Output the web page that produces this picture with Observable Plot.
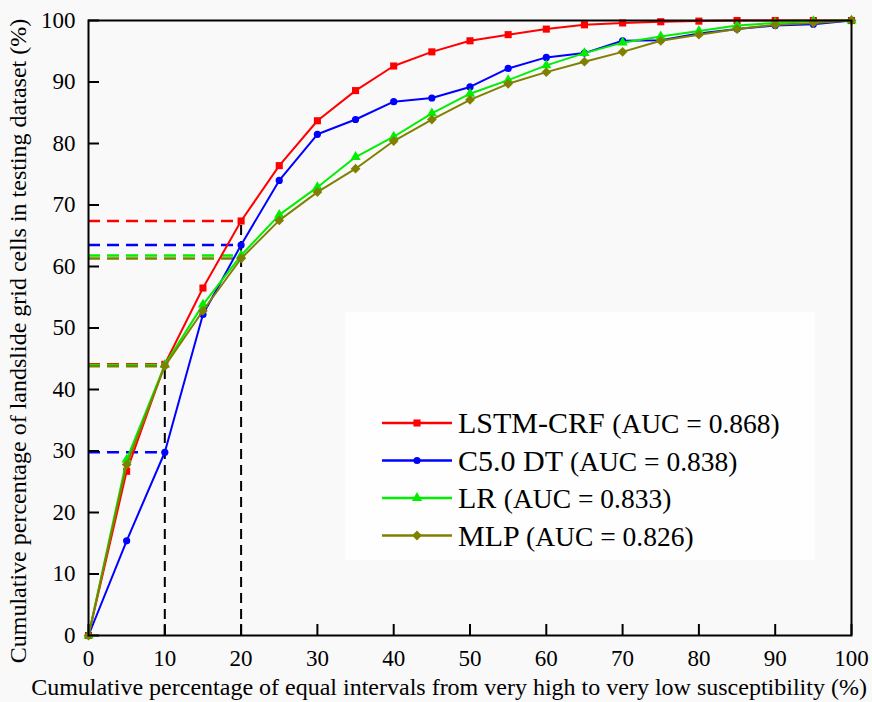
<!DOCTYPE html>
<html><head><meta charset="utf-8">
<script src="https://cdn.jsdelivr.net/npm/d3@7"></script>
<script src="https://cdn.jsdelivr.net/npm/@observablehq/plot@0.6"></script>
<style>
body{margin:0;background:#f9f9f9;}
#chart{width:872px;height:702px;}
#chart svg text{font-family:'Liberation Serif','Times New Roman',serif !important;}
</style>
</head><body><div id="chart"></div>
<script>
// ---- data ----
const xPct = [0,5,10,15,20,25,30,35,40,45,50,55,60,65,70,75,80,85,90,95,100];
const seriesNames = ["LSTM-CRF","C5.0 DT","LR","MLP"];
const aucLabels = ["(AUC = 0.868)","(AUC = 0.838)","(AUC = 0.833)","(AUC = 0.826)"];
const lstmCrf = [0,26.7,44.1,56.5,67.4,76.4,83.7,88.6,92.6,94.9,96.7,97.7,98.6,99.3,99.6,99.8,99.9,100,100,100,100];
const c50dt   = [0,15.4,29.8,52.2,63.5,74.0,81.5,83.9,86.8,87.4,89.2,92.2,94.0,94.7,96.7,96.8,97.9,98.6,99.2,99.4,100];
const lr      = [0,28.6,44.0,53.8,61.8,68.4,72.9,77.8,81.1,84.9,88.1,90.3,92.7,94.7,96.4,97.4,98.3,99.2,99.6,99.9,100];
const mlp     = [0,27.8,43.8,52.8,61.3,67.5,72.1,75.9,80.4,83.9,87.1,89.7,91.6,93.3,94.9,96.7,97.7,98.6,99.3,99.6,100];
const xTicks = [0,10,20,30,40,50,60,70,80,90,100];
const yTicks = [0,10,20,30,40,50,60,70,80,90,100];
const cutoffs = [10,20];
const xLabel = "Cumulative percentage of equal intervals from very high to very low susceptibility (%)";
const yLabel = "Cumulative percentage of landslide grid cells in testing dataset (%)";

// ---- styles ----
const values = [lstmCrf, c50dt, lr, mlp];
const colors = ["#ff0000","#0000ff","#00ee00","#808000"];
const symbols = ["square","circle","triangle","diamond2"];
const radii = [4, 3.6, 3.8, 4.4];

const W = 872, H = 702;
const M = {top: 20, right: 21, bottom: 67, left: 88};
const plotH = H - M.top - M.bottom, plotW = W - M.left - M.right;
const tickLen = 11;
const font = "'Liberation Serif', 'Times New Roman', serif";

const rows = seriesNames.map((s, i) => xPct.map((x, j) => ({series: s, x, y: values[i][j]})));

const marks = [];
// horizontal dashed reference lines per series
seriesNames.forEach((s, i) => {
  const refs = cutoffs.map(c => ({cut: c, y: values[i][xPct.indexOf(c)]}));
  marks.push(Plot.ruleY(refs, {x1: 0, x2: "cut", y: "y", stroke: colors[i], strokeWidth: 2.5, strokeDasharray: "12,7"}));
});
// vertical dashed
marks.push(Plot.ruleX(cutoffs, {x: d => d, y1: 0, y2: c => d3.max(values, v => v[xPct.indexOf(c)]), stroke: "black", strokeWidth: 2, strokeDasharray: "10,6"}));
// ticks (inward)
marks.push(Plot.ruleX(xTicks, {x: d => d, insetTop: plotH - tickLen, stroke: "black", strokeWidth: 2}));
marks.push(Plot.ruleY(yTicks, {y: d => d, insetRight: plotW - tickLen, stroke: "black", strokeWidth: 2}));
// series
seriesNames.forEach((s, i) => {
  marks.push(Plot.line(rows[i], {x: "x", y: "y", stroke: colors[i], strokeWidth: 2}));
  marks.push(Plot.dot(rows[i], {x: "x", y: "y", symbol: () => symbols[i], r: radii[i], fill: colors[i], stroke: "none"}));
});
marks.push(Plot.frame({stroke: "black", strokeWidth: 2}));
marks.push(Plot.axisX({ticks: xTicks, tickSize: 0, tickPadding: 14, fontSize: 23, fontFamily: font, label: null, fill: "black"}));
marks.push(Plot.axisY({ticks: yTicks, tickSize: 0, tickPadding: 13, fontSize: 23, fontFamily: font, label: null, fill: "black"}));
marks.push(Plot.text([xLabel], {text: d => d, frameAnchor: "bottom", textAnchor: "middle", lineAnchor: "middle", dy: 52, dx: -21, fontSize: 24, fontFamily: font, fill: "black"}));
marks.push(Plot.text([yLabel], {text: d => d, frameAnchor: "left", textAnchor: "middle", lineAnchor: "middle", rotate: -90, dx: -70, dy: 13, fontSize: 24, fontFamily: font, fill: "black"}));

const chart = Plot.plot({
  width: W, height: H,
  marginTop: M.top, marginRight: M.right, marginBottom: M.bottom, marginLeft: M.left,
  x: {domain: [0, 100]},
  y: {domain: [0, 100]},
  style: {background: "#f9f9f9", fontFamily: font, color: "black"},
  marks
});
document.getElementById("chart").appendChild(chart);

// ---- legend (inside plot) ----
const svg = d3.select(chart);
const lg = svg.append("g");
lg.append("rect").attr("x", 345).attr("y", 312).attr("width", 470).attr("height", 248).attr("fill", "#fefefe");
const symGen = [d3.symbolSquare, d3.symbolCircle, d3.symbolTriangle, d3.symbolDiamond2];
seriesNames.forEach((s, i) => {
  const cy = 423 + i * 37.5;
  const g = lg.append("g").attr("transform", `translate(0,${cy})`);
  g.append("line").attr("x1", 382).attr("x2", 452).attr("stroke", colors[i]).attr("stroke-width", 2.5);
  g.append("path").attr("transform", "translate(417,0)").attr("d", d3.symbol(symGen[i], Math.PI * radii[i] * radii[i])()).attr("fill", colors[i]);
  const t = g.append("text").attr("x", 458).attr("y", 10).attr("text-anchor", "start").attr("font-family", font).attr("fill", "black");
  t.append("tspan").attr("font-size", 30).text(s + " ");
  t.append("tspan").attr("font-size", 27.5).text(aucLabels[i]);
});
</script>
</body></html>
